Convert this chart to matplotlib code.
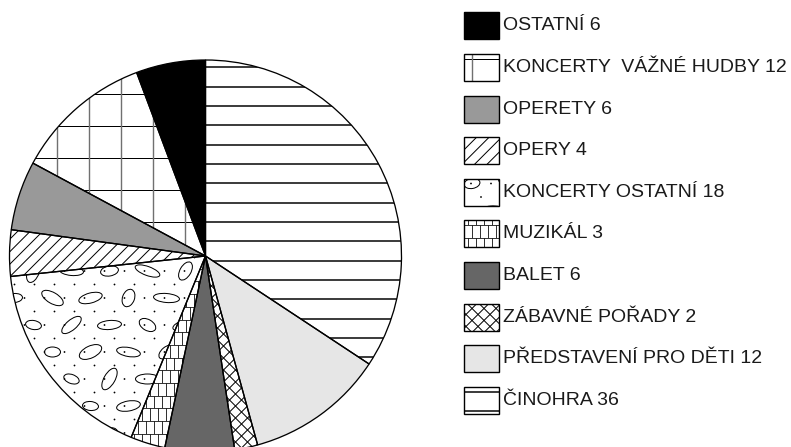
import numpy as np
import matplotlib
matplotlib.use('Agg')
import matplotlib.pyplot as plt
from matplotlib.patches import Rectangle, Ellipse, Circle, Wedge
from matplotlib.lines import Line2D

# ---- data ----
categories = ['ČINOHRA', 'PŘEDSTAVENÍ PRO DĚTI', 'ZÁBAVNÉ POŘADY', 'BALET', 'MUZIKÁL',
              'KONCERTY OSTATNÍ', 'OPERY', 'OPERETY', 'KONCERTY  VÁŽNÉ HUDBY', 'OSTATNÍ']
values = [36, 12, 2, 6, 3, 18, 4, 6, 12, 6]

face_colors = ['white', '#e6e6e6', 'white', '#666666', 'white',
               'white', 'white', '#999999', 'white', 'black']
patterns = ['hlines', None, 'cross', None, 'brick', 'blobs', 'diag', None, 'grid', None]

W, H = 791, 447
fig = plt.figure(figsize=(W / 100, H / 100), dpi=100)
ax = fig.add_axes([0, 0, 1, 1])

CX, CY, R = 205.5, H - 256, 196
PX = 0.72  # points per pixel

pie_phase = {'hlines': (CX, H - 67.3), 'grid': (185, H - 126), 'cross': (CX, CY),
             'diag': (CX, CY), 'brick': (CX, CY), 'blobs': (CX - 20, CY - 15)}


def frange(start, lo, hi, step):
    k0 = int(np.floor((lo - start) / step)) - 1
    k1 = int(np.ceil((hi - start) / step)) + 1
    return start + np.arange(k0, k1 + 1) * step


def add_line(xs, ys, clip, **kw):
    ln = Line2D(xs, ys, **kw)
    ax.add_line(ln)
    ln.set_clip_path(clip)


def add_patch(p, clip):
    ax.add_patch(p)
    p.set_clip_path(clip)


def draw_pattern(kind, clip, bb, ph):
    x0, y0, x1, y1 = bb
    if kind == 'hlines':
        for y in frange(ph[1], y0, y1, 19.33):
            add_line([x0, x1], [y, y], clip, color='black', lw=1.5 * PX, zorder=2)
    elif kind == 'diag':
        sp = 12.5
        for c in frange(ph[0] - ph[1], x0 - y1, x1 - y0, sp):
            add_line([x0, x1], [x0 - c, x1 - c], clip, color='black', lw=1.0 * PX, zorder=2)
    elif kind == 'cross':
        sp = 12
        for c in frange(ph[0] - ph[1], x0 - y1, x1 - y0, sp):
            add_line([x0, x1], [x0 - c, x1 - c], clip, color='black', lw=1.0 * PX, zorder=2)
        for c in frange(ph[0] + ph[1], x0 + y0, x1 + y1, sp):
            add_line([x0, x1], [c - x0, c - x1], clip, color='black', lw=1.0 * PX, zorder=2)
    elif kind == 'grid':
        for y in frange(ph[1], y0, y1, 32):
            add_line([x0, x1], [y, y], clip, color='black', lw=1.0 * PX, zorder=2)
        for x in frange(ph[0], x0, x1, 32):
            add_line([x, x], [y0, y1], clip, color='#707070', lw=1.4 * PX, zorder=2)
    elif kind == 'brick':
        rh, cw = 12.7, 8.0
        ys = frange(ph[1], y0, y1, rh)
        for i, y in enumerate(ys):
            add_line([x0, x1], [y, y], clip, color='#222222', lw=0.9 * PX, zorder=2)
            off = (i % 2) * cw / 2
            for x in frange(ph[0] + off, x0, x1, cw):
                add_line([x, x], [y, y + rh], clip, color='#333333', lw=1.0 * PX, zorder=2)
    elif kind == 'blobs':
        angles = [10, -20, 60, 0, 25, -10, 40, 5, -30, 15, 70, -5]
        widths = [24, 18, 26, 20, 22, 16, 24]
        heights = [10, 9, 11, 10, 12, 9]
        dx, dy = 38, 27
        ys = frange(ph[1], y0, y1, dy)
        n = 0
        for i, y in enumerate(ys):
            off = (i % 2) * dx / 2
            for x in frange(ph[0] + off, x0, x1, dx):
                e = Ellipse((x, y), widths[n % 7], heights[n % 6], angle=angles[n % 12],
                            fill=False, ec='black', lw=1.0 * PX, zorder=2)
                add_patch(e, clip)
                n += 1
        ys2 = frange(ph[1] + dy / 2, y0, y1, dy / 2)
        for i, y in enumerate(ys2):
            off = (i % 2) * 10 + 9
            for x in frange(ph[0] + off, x0, x1, 20):
                d = Circle((x, y), 0.9, fc='black', ec='none', zorder=2)
                add_patch(d, clip)


# ---- pie ----
wedges, _ = ax.pie(values, startangle=90, counterclock=False, center=(CX, CY), radius=R,
                   colors=face_colors, frame=False,
                   wedgeprops=dict(edgecolor='none', linewidth=0))
for w, pat in zip(wedges, patterns):
    if pat:
        draw_pattern(pat, w, (CX - R, CY - R, CX + R, CY + R), pie_phase[pat])
    ax.add_patch(Wedge(w.center, w.r, w.theta1, w.theta2, fill=False,
                       ec='black', lw=1.3 * PX, zorder=3))

# ---- legend ----
bx, bw, bh = 464, 35, 27
for i, (cat, val, fc, pat) in enumerate(list(zip(categories, values, face_colors, patterns))[::-1]):
    yc = 25.7 + i * 41.65
    ytop = H - (yc - bh / 2)
    rect = Rectangle((bx, ytop - bh), bw, bh, fc=fc, ec='none', zorder=1)
    ax.add_patch(rect)
    if pat:
        draw_pattern(pat, rect, (bx, ytop - bh, bx + bw, ytop), (bx + 8, ytop - 4.7))
    ax.add_patch(Rectangle((bx, ytop - bh), bw, bh, fill=False, ec='black',
                           lw=1.4 * PX, zorder=3))
    ax.text(503, H - yc, f'{cat} {val}', fontsize=14, family='Liberation Sans',
            color='#1a1a1a', va='center', ha='left')

ax.set_xlim(0, W)
ax.set_ylim(0, H)
ax.set_aspect('auto')
ax.axis('off')

fig.savefig('out.png', dpi=100, facecolor='white')
